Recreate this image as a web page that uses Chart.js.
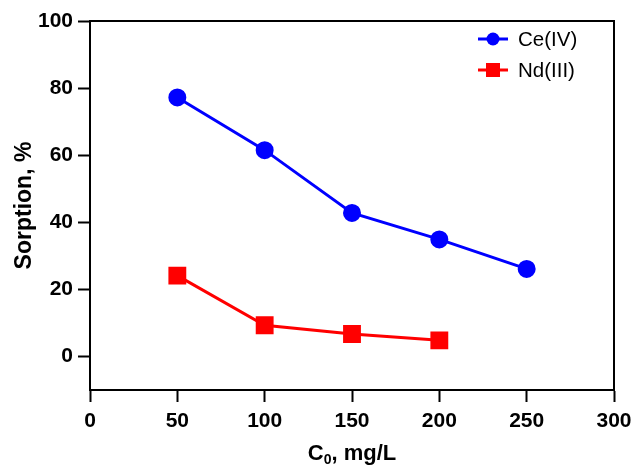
<!DOCTYPE html>
<html lang="en">
<head>
    <meta charset="UTF-8">
    <title>Sorption vs C0</title>
    <script src="https://cdn.jsdelivr.net/npm/chart.js"></script>
    <style>
        body { margin: 0; padding: 0; background: #ffffff; }
        #chart { display: block; }
    </style>
</head>
<body>
    <canvas id="chart" width="642" height="465"></canvas>

    <script>
        // data
        const concCe = [50, 100, 150, 200, 250];
        const sorptionCe = [77.2, 61.5, 42.8, 34.9, 26.1];
        const concNd = [50, 100, 150, 200];
        const sorptionNd = [24.1, 9.3, 6.7, 4.8];
        const xTicks = [0, 50, 100, 150, 200, 250, 300];
        const yTicks = [0, 20, 40, 60, 80, 100];
        const seriesNames = ['Ce(IV)', 'Nd(III)'];

        const FONT = 'Arial, "Liberation Sans", sans-serif';

        const toPoints = (xs, ys) => xs.map((x, i) => ({ x: x, y: ys[i] }));

        // top and right sides of the frame
        const framePlugin = {
            id: 'frame',
            afterDraw(chart) {
                const { ctx, chartArea: a } = chart;
                ctx.save();
                ctx.strokeStyle = '#000';
                ctx.lineWidth = 2;
                ctx.beginPath();
                ctx.moveTo(a.left, a.top);
                ctx.lineTo(a.right, a.top);
                ctx.lineTo(a.right, a.bottom);
                ctx.stroke();
                ctx.restore();
            }
        };

        // legend with line + marker, inside the plot, top right
        const legendPlugin = {
            id: 'lineLegend',
            afterDraw(chart) {
                const ctx = chart.ctx;
                ctx.save();
                chart.data.datasets.forEach((ds, i) => {
                    const y = 39 + i * 31;
                    ctx.strokeStyle = ds.borderColor;
                    ctx.lineWidth = 3;
                    ctx.beginPath();
                    ctx.moveTo(478, y);
                    ctx.lineTo(508, y);
                    ctx.stroke();
                    ctx.fillStyle = ds.pointBackgroundColor;
                    if (ds.pointStyle === 'circle') {
                        ctx.beginPath();
                        ctx.arc(493, y, 6.5, 0, Math.PI * 2);
                        ctx.fill();
                    } else {
                        ctx.fillRect(486, y - 7, 14, 14);
                    }
                    ctx.fillStyle = '#000';
                    ctx.font = '20.5px ' + FONT;
                    ctx.textBaseline = 'middle';
                    ctx.textAlign = 'left';
                    ctx.fillText(ds.label, 518, y + 1);
                });
                ctx.restore();
            }
        };

        // x title with subscript
        const xTitlePlugin = {
            id: 'xTitle',
            afterDraw(chart) {
                const ctx = chart.ctx;
                const big = 'bold 22px ' + FONT;
                const small = 'bold 14px ' + FONT;
                ctx.save();
                ctx.fillStyle = '#000';
                ctx.textBaseline = 'alphabetic';
                ctx.textAlign = 'left';
                ctx.font = big;
                const wC = ctx.measureText('C').width;
                const wRest = ctx.measureText(', mg/L').width;
                ctx.font = small;
                const w0 = ctx.measureText('0').width;
                const a = chart.chartArea;
                let x = (a.left + a.right) / 2 - (wC + w0 + wRest) / 2;
                const base = 460;
                ctx.font = big;
                ctx.fillText('C', x, base);
                x += wC;
                ctx.font = small;
                ctx.fillText('0', x, base + 4);
                x += w0;
                ctx.font = big;
                ctx.fillText(', mg/L', x, base);
                ctx.restore();
            }
        };

        new Chart(document.getElementById('chart'), {
            type: 'line',
            data: {
                datasets: [
                    {
                        label: seriesNames[0],
                        data: toPoints(concCe, sorptionCe),
                        borderColor: '#0000ff',
                        backgroundColor: '#0000ff',
                        pointBackgroundColor: '#0000ff',
                        pointBorderColor: '#0000ff',
                        pointStyle: 'circle',
                        pointRadius: 7.5,
                        borderWidth: 3,
                        tension: 0
                    },
                    {
                        label: seriesNames[1],
                        data: toPoints(concNd, sorptionNd),
                        borderColor: '#ff0000',
                        backgroundColor: '#ff0000',
                        pointBackgroundColor: '#ff0000',
                        pointBorderColor: '#ff0000',
                        pointStyle: 'rect',
                        pointRadius: 10.5,
                        borderWidth: 3,
                        tension: 0
                    }
                ]
            },
            options: {
                responsive: false,
                animation: false,
                layout: { padding: { left: 0, right: 28, top: 21, bottom: 0 } },
                plugins: {
                    legend: { display: false },
                    tooltip: { enabled: false }
                },
                scales: {
                    x: {
                        type: 'linear',
                        min: 0,
                        max: 300,
                        afterBuildTicks: s => { s.ticks = xTicks.map(v => ({ value: v })); },
                        afterFit: s => { s.height = 75; },
                        grid: {
                            display: true,
                            drawOnChartArea: false,
                            drawTicks: true,
                            tickLength: 12,
                            tickWidth: 2,
                            tickColor: '#000'
                        },
                        border: { display: true, color: '#000', width: 2 },
                        ticks: {
                            color: '#000',
                            padding: 7,
                            maxRotation: 0,
                            font: { family: FONT, size: 21, weight: 'bold' }
                        },
                        title: { display: false }
                    },
                    y: {
                        min: -10,
                        max: 100,
                        afterBuildTicks: s => { s.ticks = yTicks.map(v => ({ value: v })); },
                        afterFit: s => { s.width = 90; },
                        grid: {
                            display: true,
                            drawOnChartArea: false,
                            drawTicks: true,
                            tickLength: 12,
                            tickWidth: 2,
                            tickColor: '#000'
                        },
                        border: { display: true, color: '#000', width: 2 },
                        ticks: {
                            color: '#000',
                            padding: 5,
                            font: { family: FONT, size: 21, weight: 'bold' }
                        },
                        title: {
                            display: true,
                            text: 'Sorption, %',
                            color: '#000',
                            padding: { top: 11, bottom: 0 },
                            font: { family: FONT, size: 23, weight: 'bold' }
                        }
                    }
                }
            },
            plugins: [framePlugin, legendPlugin, xTitlePlugin]
        });
    </script>
</body>
</html>
